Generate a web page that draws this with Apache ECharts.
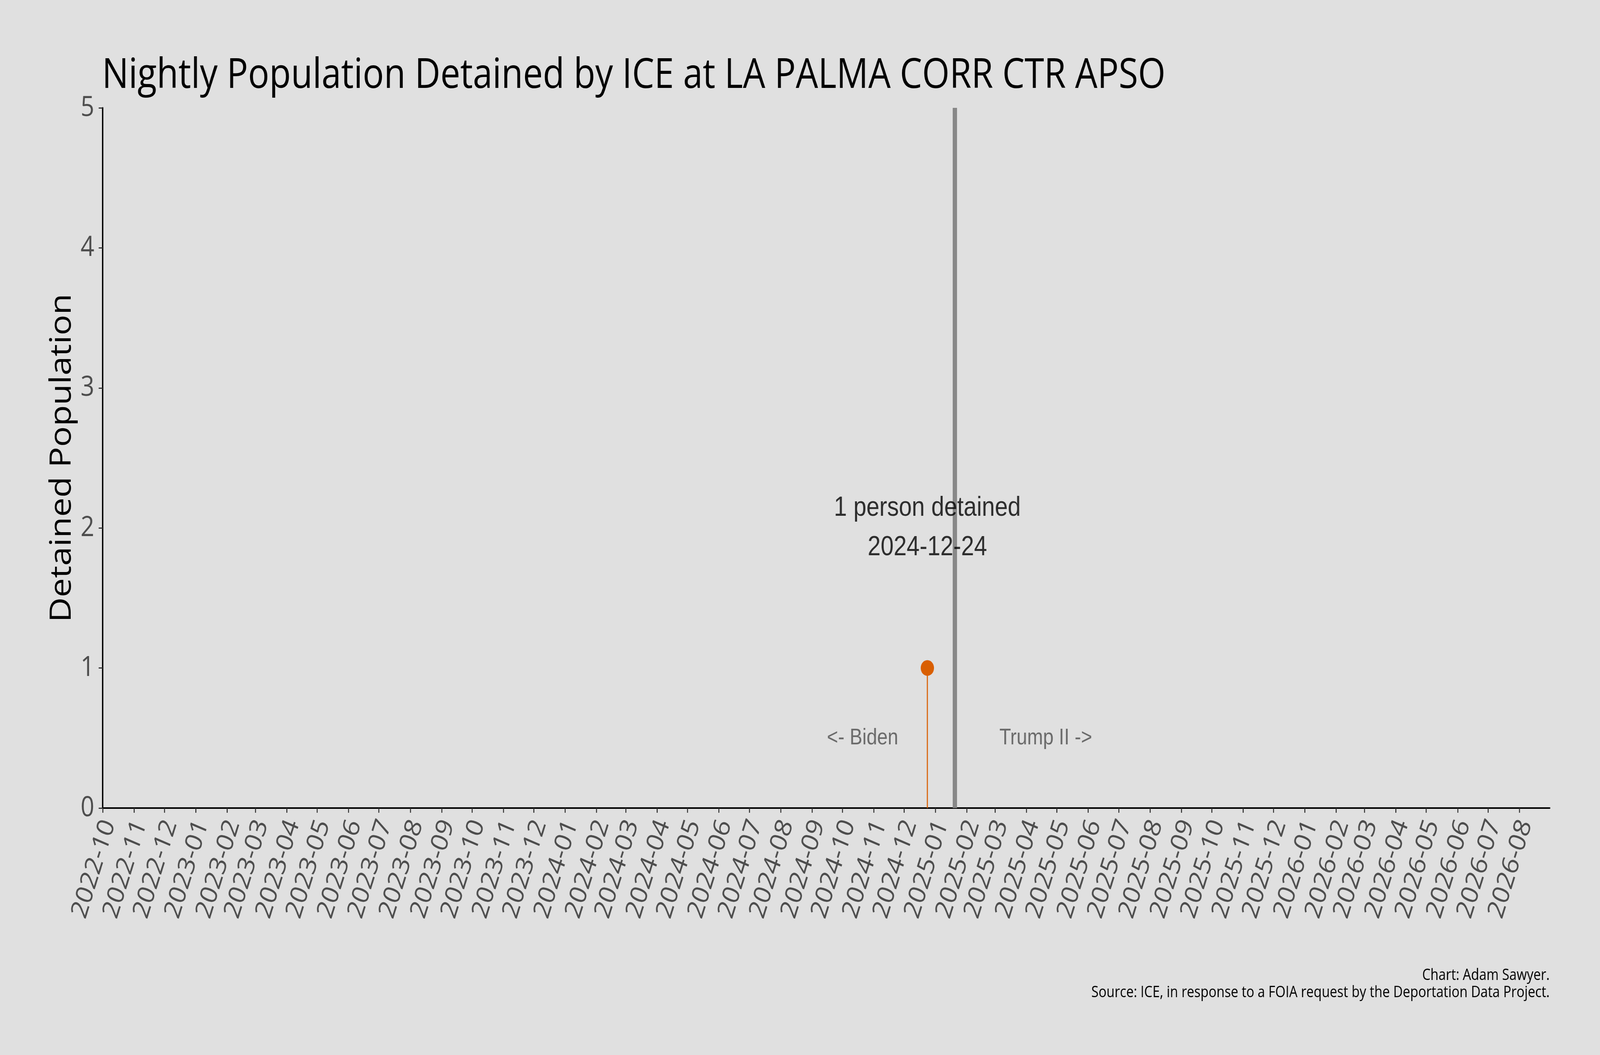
<!DOCTYPE html>
<html>
<head>
<meta charset="utf-8">
<script src="https://cdn.jsdelivr.net/npm/echarts@6/dist/echarts.min.js"></script>
<style>
html,body{margin:0;padding:0;background:#e0e0e0;overflow:hidden;}
#chart{width:4800px;height:2700px;transform-origin:0 0;}
</style>
</head>
<body>
<div id="chart"></div>
<script>
// ---- data ----
const titleText = 'Nightly Population Detained by ICE at LA PALMA CORR CTR APSO';
const yAxisTitle = 'Detained Population';
const captionLines = ['Chart: Adam Sawyer.', 'Source: ICE, in response to a FOIA request by the Deportation Data Project.'];
const detDates = ['2024-12-24'];
const detValues = [1];
const inaugurationDate = '2025-01-20';
const eraLabels = ['<- Biden', 'Trump II ->'];
const eraLabelDates = ['2024-10-21', '2025-04-20'];
const eraLabelY = [0.5, 0.5];
const annotationY = 2;
const xRange = ['2022-10-01', '2026-08-31'];
const yTicks = [0, 1, 2, 3, 4, 5];
const tickMonths = ['2022-10','2022-11','2022-12',
  '2023-01','2023-02','2023-03','2023-04','2023-05','2023-06','2023-07','2023-08','2023-09','2023-10','2023-11','2023-12',
  '2024-01','2024-02','2024-03','2024-04','2024-05','2024-06','2024-07','2024-08','2024-09','2024-10','2024-11','2024-12',
  '2025-01','2025-02','2025-03','2025-04','2025-05','2025-06','2025-07','2025-08','2025-09','2025-10','2025-11','2025-12',
  '2026-01','2026-02','2026-03','2026-04','2026-05','2026-06','2026-07','2026-08'];

// ---- helpers ----
function ts(s) {
  const p = s.split('-').map(Number);
  return new Date(p[0], p[1] - 1, p[2] || 1).getTime();
}
const tickValues = tickMonths.map(ts);
function fmtMonth(v) {
  const i = tickValues.indexOf(v);
  if (i >= 0) return tickMonths[i];
  const d = new Date(v);
  return d.getFullYear() + '-' + String(d.getMonth() + 1).padStart(2, '0');
}

const detData = detDates.map((d, i) => [ts(d), detValues[i]]);
const annData = detDates.map((d, i) => ({ value: [ts(d), annotationY], txt: detValues[i] + ' person detained\n' + d }));
const eraData = eraLabels.map((t, i) => ({ value: [ts(eraLabelDates[i]), eraLabelY[i]], txt: t }));

const ORANGE = '#d95f02';
const UIFONT = '"Open Sans", "Noto Sans", sans-serif';
const ARIAL = '"Liberation Sans", Arial, sans-serif';

// The design is laid out on a 4800x2700 canvas; fit it to whatever viewport we get.
const el = document.getElementById('chart');
el.style.transform = 'scale(' + (window.innerWidth / 4800) + ',' + (window.innerHeight / 2700) + ')';

const chart = echarts.init(el, null, { renderer: 'canvas', width: 4800, height: 2700 });
chart.setOption({
  backgroundColor: '#e0e0e0',
  animation: false,
  grid: { left: 308, right: 151, top: 276, bottom: 632, containLabel: false },
  graphic: [
    {
      type: 'text', left: 306, top: 142,
      style: { text: titleText, font: '106px ' + UIFONT, fill: '#000' }
    },
    {
      type: 'text', x: 4649, y: 2497,
      style: { text: captionLines[0], font: '39.5px ' + UIFONT, fill: '#000', align: 'right', verticalAlign: 'middle' }
    },
    {
      type: 'text', x: 4649, y: 2541,
      style: { text: captionLines[1], font: '39.5px ' + UIFONT, fill: '#000', align: 'right', verticalAlign: 'middle' }
    }
  ],
  xAxis: {
    type: 'value',
    min: ts(xRange[0]),
    max: ts(xRange[1]),
    splitLine: { show: false },
    axisLine: { show: true, onZero: false, lineStyle: { color: '#000', width: 4 } },
    axisTick: { show: true, customValues: tickValues, length: 12, lineStyle: { color: '#333', width: 3 } },
    axisLabel: {
      customValues: tickValues,
      formatter: fmtMonth,
      rotate: 70,
      fontSize: 70,
      fontFamily: UIFONT,
      color: '#4d4d4d',
      margin: 26,
      verticalAlign: 'top',
      lineHeight: 40,
      hideOverlap: false,
      showMinLabel: true,
      showMaxLabel: true
    }
  },
  yAxis: {
    type: 'value',
    min: 0, max: 5, interval: 1,
    name: yAxisTitle,
    nameLocation: 'middle',
    nameRotate: 90,
    nameGap: 62,
    nameTextStyle: { fontSize: 88, fontFamily: UIFONT, color: '#000' },
    splitLine: { show: false },
    axisLine: { show: true, lineStyle: { color: '#000', width: 4 } },
    axisTick: { show: true, length: 12, lineStyle: { color: '#333', width: 3 } },
    axisLabel: {
      margin: 25, fontSize: 72, fontFamily: UIFONT, color: '#4d4d4d',
      formatter: v => (yTicks.indexOf(v) >= 0 ? String(v) : '')
    }
  },
  series: [
    {
      type: 'bar',
      data: detData,
      barWidth: 3,
      itemStyle: { color: ORANGE },
      z: 3,
      markLine: {
        silent: true,
        symbol: ['none', 'none'],
        label: { show: false },
        lineStyle: { color: '#888888', width: 13, type: 'solid' },
        data: [{ xAxis: ts(inaugurationDate) }]
      }
    },
    {
      type: 'scatter',
      data: detData,
      symbol: 'circle',
      symbolSize: 40,
      itemStyle: { color: ORANGE, opacity: 1 },
      z: 4
    },
    {
      type: 'scatter',
      data: annData,
      symbolSize: 1,
      itemStyle: { color: 'rgba(0,0,0,0)' },
      z: 6,
      label: {
        show: true, position: 'inside',
        formatter: p => p.data.txt,
        fontSize: 70, fontFamily: ARIAL, color: '#000', lineHeight: 101, align: 'center', verticalAlign: 'middle'
      }
    },
    {
      type: 'scatter',
      data: eraData,
      symbolSize: 1,
      itemStyle: { color: 'rgba(0,0,0,0)' },
      z: 6,
      label: {
        show: true, position: 'inside',
        formatter: p => p.data.txt,
        fontSize: 57, fontFamily: ARIAL, color: '#4d4d4d', align: 'center', verticalAlign: 'middle'
      }
    }
  ]
});
</script>
</body>
</html>
